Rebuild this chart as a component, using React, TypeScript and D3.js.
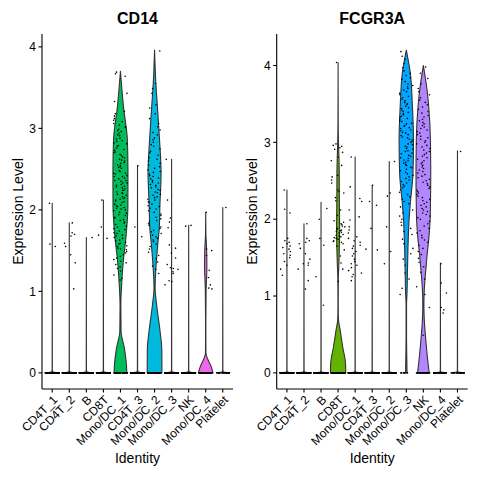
import React from "react";
import * as d3 from "d3";

const categories = ["CD4T_1", "CD4T_2", "B", "CD8T", "Mono/DC_1", "CD4T_3", "Mono/DC_2", "Mono/DC_3", "NK", "Mono/DC_4", "Platelet"];
const palette = ["#F8766D", "#DB8E00", "#AEA200", "#64B200", "#00BD5C", "#00C1A7", "#00BADE", "#00A6FF", "#B385FF", "#EF67EB", "#FF63B6"];

// ---------- CD14 ----------
const cd14Zeros = [150, 150, 150, 150, 30, 150, 40, 150, 150, 40, 18];
const cd14Values: number[][] = [
  [2.08, 1.58, 1.55],
  [1.84, 1.72, 1.70, 1.68, 1.59, 1.55, 1.45, 1.35, 1.03],
  [1.66],
  [2.12, 1.79, 1.69, 1.65],
  [3.69, 3.67, 3.64, 3.43, 3.33, 3.21, 3.18, 3.15, 3.12, 3.10, 3.08, 3.06, 3.04, 3.02, 3.01,
   2.99, 2.97, 2.96, 2.94, 2.92, 2.91, 2.88, 2.87, 2.85, 2.84, 2.82, 2.81, 2.79, 2.78, 2.76, 2.74, 2.73, 2.71, 2.70, 2.68, 2.67, 2.65, 2.64, 2.62, 2.61, 2.60, 2.58, 2.57, 2.55, 2.54, 2.53, 2.52, 2.51,
   2.48, 2.47, 2.45, 2.45, 2.44, 2.42, 2.41, 2.41, 2.39, 2.38, 2.36, 2.36, 2.35, 2.33, 2.33, 2.31, 2.30, 2.29, 2.28, 2.27, 2.26, 2.24, 2.24, 2.22, 2.21, 2.20, 2.19, 2.18, 2.16, 2.15, 2.14, 2.13, 2.12, 2.11, 2.10, 2.09, 2.07, 2.06, 2.05, 2.04, 2.03, 2.02, 2.01, 2.00,
   1.99, 1.97, 1.96, 1.94, 1.93, 1.91, 1.90, 1.88, 1.87, 1.85, 1.84, 1.82, 1.80, 1.79, 1.77, 1.76, 1.74, 1.72, 1.71, 1.69, 1.68, 1.66, 1.65, 1.63, 1.62, 1.60, 1.59, 1.58, 1.56, 1.55, 1.53, 1.52, 1.51,
   1.49, 1.47, 1.45, 1.43, 1.41, 1.39, 1.37, 1.35, 1.33, 1.30, 1.28, 1.25, 1.20, 1.16, 1.14],
  [2.54, 1.79, 1.67],
  [3.95, 3.55, 3.49, 3.43, 3.29, 3.25, 3.18, 3.12, 3.06, 3.02,
   2.98, 2.95, 2.92, 2.88, 2.86, 2.83, 2.80, 2.78, 2.75, 2.72, 2.70, 2.67, 2.64, 2.62, 2.60, 2.57, 2.55, 2.53, 2.51,
   2.49, 2.47, 2.46, 2.44, 2.42, 2.41, 2.39, 2.38, 2.36, 2.34, 2.33, 2.31, 2.30, 2.28, 2.27, 2.25, 2.24, 2.22, 2.21, 2.19, 2.18, 2.16, 2.15, 2.13, 2.12, 2.10, 2.09, 2.07, 2.05, 2.04, 2.02, 2.01,
   1.99, 1.97, 1.95, 1.93, 1.91, 1.89, 1.87, 1.85, 1.83, 1.81, 1.79, 1.77, 1.75, 1.73, 1.71, 1.69, 1.67, 1.65, 1.63, 1.61, 1.58, 1.55, 1.52,
   1.48, 1.44, 1.40, 1.36, 1.31, 1.27, 1.22],
  [2.62, 2.12, 1.90, 1.85, 1.78, 1.57, 1.53, 1.47, 1.41, 1.33, 1.29, 1.28, 1.27, 1.24, 1.22, 1.13, 1.12, 1.08],
  [1.81, 1.80],
  [1.97, 1.52, 1.50, 1.44, 1.26, 1.17, 1.08, 1.04, 1.03],
  [2.03],
];
// violin outlines: [expression level, relative half-width]
const cd14Profiles: [number, number][][] = [
  [[0, 0.75], [0.012, 0.06], [0.04, 0.012], [2.08, 0]],
  [[0, 0.75], [0.012, 0.06], [0.04, 0.012], [1.84, 0]],
  [[0, 0.75], [0.012, 0.06], [0.04, 0.012], [1.66, 0]],
  [[0, 0.75], [0.012, 0.06], [0.04, 0.012], [2.12, 0]],
  [[0, 0.83], [0.1, 0.78], [0.3, 0.52], [0.51, 0.08], [0.83, 0.05], [1.04, 0.13], [1.37, 0.37], [1.65, 0.7], [2.04, 0.97], [2.45, 0.98], [2.86, 0.9], [3.27, 0.39], [3.7, 0]],
  [[0, 0.75], [0.012, 0.06], [0.04, 0.012], [2.54, 0]],
  [[0, 0.95], [0.1, 0.96], [0.3, 0.94], [0.51, 0.72], [0.83, 0.28], [1.04, 0.07], [1.24, 0.15], [1.57, 0.41], [1.78, 0.62], [2.06, 0.7], [2.45, 0.85], [2.86, 0.65], [3.27, 0.37], [3.55, 0.17], [3.96, 0]],
  [[0, 0.75], [0.012, 0.06], [0.04, 0.012], [2.62, 0]],
  [[0, 0.75], [0.012, 0.06], [0.04, 0.012], [1.81, 0]],
  [[0, 0.95], [0.08, 0.7], [0.16, 0.3], [0.24, 0.03], [0.6, 0.015], [1.02, 0.05], [1.3, 0.15], [1.51, 0.12], [1.72, 0.02], [1.97, 0]],
  [[0, 0.75], [0.012, 0.06], [0.04, 0.012], [2.03, 0]],
];

// ---------- FCGR3A ----------
const fcgrZeros = [150, 150, 150, 120, 150, 150, 150, 6, 25, 30, 18];
const fcgrValues: number[][] = [
  [2.38, 2.13, 2.08, 1.75, 1.72, 1.70, 1.68, 1.65, 1.63, 1.61, 1.58, 1.55, 1.53, 1.50, 1.45, 1.40, 1.35, 1.27],
  [1.94, 1.75, 1.72, 1.70, 1.68, 1.62, 1.55, 1.48, 1.43, 1.42, 1.40, 1.35, 1.20, 1.09],
  [2.14, 2.00, 1.75, 1.66, 1.25, 0.88],
  [4.04, 2.98, 2.96, 2.95, 2.93, 2.91, 2.87, 2.81, 2.76, 2.70, 2.57, 2.55, 2.51, 2.47, 2.38, 2.36, 2.34, 2.28, 2.24, 2.12, 2.05,
   1.98, 1.96, 1.94, 1.93, 1.91, 1.90, 1.88, 1.87, 1.86, 1.85, 1.84, 1.83, 1.82, 1.80, 1.79, 1.78, 1.77, 1.76, 1.75, 1.74, 1.72, 1.71, 1.70, 1.68, 1.65, 1.60, 1.52, 1.43, 1.35, 1.19],
  [2.81, 2.42, 2.27, 2.23, 2.12, 2.03, 1.99, 1.90, 1.86, 1.82, 1.77, 1.75, 1.72, 1.70, 1.66, 1.65, 1.62, 1.58, 1.55, 1.52, 1.48, 1.45, 1.42, 1.40, 1.37, 1.33, 1.30, 1.28, 1.25, 1.20],
  [2.44, 2.23, 2.18, 1.88, 1.61, 1.60],
  [2.75, 2.34, 2.30, 1.90, 1.58, 1.42],
  [4.18, 4.12, 4.08, 4.03, 3.97, 3.93, 3.90, 3.87, 3.84, 3.82, 3.79, 3.76, 3.74, 3.72, 3.70, 3.68, 3.66, 3.64, 3.62, 3.60, 3.58, 3.56, 3.54, 3.52, 3.50, 3.49, 3.47, 3.45, 3.44, 3.42, 3.40, 3.39, 3.37, 3.36, 3.34, 3.33, 3.31, 3.30, 3.28, 3.27, 3.25, 3.24, 3.22, 3.21, 3.19, 3.18, 3.16, 3.15, 3.13, 3.12, 3.10, 3.09, 3.07, 3.06, 3.04, 3.03, 3.01, 3.00,
   2.98, 2.97, 2.95, 2.94, 2.92, 2.91, 2.89, 2.88, 2.86, 2.85, 2.83, 2.82, 2.80, 2.79, 2.77, 2.76, 2.74, 2.73, 2.71, 2.70, 2.68, 2.67, 2.65, 2.63, 2.61, 2.59, 2.57, 2.55, 2.53, 2.51, 2.49, 2.47, 2.45, 2.43, 2.41, 2.38, 2.35, 2.32, 2.29, 2.26, 2.23, 2.20, 2.16, 2.12, 2.08, 2.04, 2.00,
   1.96, 1.92, 1.88, 1.84, 1.80, 1.74, 1.68, 1.62, 1.55, 1.48, 1.40, 1.30, 1.22, 1.10, 1.02],
  [3.98, 3.90, 3.83, 3.76, 3.70, 3.66, 3.62, 3.58, 3.55, 3.52, 3.49, 3.46, 3.43, 3.40, 3.38, 3.35, 3.33, 3.30, 3.28, 3.26, 3.24, 3.22, 3.20, 3.18, 3.16, 3.14, 3.12, 3.10, 3.08, 3.06, 3.04, 3.02, 3.00,
   2.98, 2.96, 2.94, 2.92, 2.90, 2.88, 2.86, 2.84, 2.82, 2.80, 2.78, 2.76, 2.74, 2.72, 2.70, 2.68, 2.66, 2.64, 2.62, 2.60, 2.58, 2.56, 2.54, 2.52, 2.50, 2.48, 2.46, 2.44, 2.42, 2.40, 2.38, 2.36, 2.34, 2.32, 2.30, 2.28, 2.26, 2.24, 2.22, 2.20, 2.18, 2.16, 2.14, 2.12, 2.10, 2.08, 2.06, 2.04, 2.02, 2.00,
   1.97, 1.94, 1.91, 1.88, 1.85, 1.82, 1.79, 1.76, 1.73, 1.70, 1.66, 1.62, 1.58, 1.54, 1.49, 1.44, 1.38, 1.31, 1.22, 1.12, 1.02, 0.85, 0.49],
  [1.42, 1.17, 1.04, 0.85, 0.82, 0.78],
  [2.88],
];
const fcgrProfiles: [number, number][][] = [
  [[0, 0.75], [0.012, 0.06], [0.04, 0.012], [2.38, 0]],
  [[0, 0.75], [0.012, 0.06], [0.04, 0.012], [1.94, 0]],
  [[0, 0.75], [0.012, 0.06], [0.04, 0.012], [2.22, 0]],
  [[0, 1.0], [0.13, 0.96], [0.34, 0.6], [0.56, 0.26], [0.69, 0.05], [0.85, 0.02], [1.0, 0.02], [1.21, 0.03], [1.47, 0.12], [1.86, 0.2], [2.3, 0.16], [2.6, 0.15], [2.77, 0.12], [3.0, 0.05], [3.3, 0.015], [4.04, 0]],
  [[0, 0.75], [0.012, 0.06], [0.04, 0.012], [2.81, 0]],
  [[0, 0.75], [0.012, 0.06], [0.04, 0.012], [2.44, 0]],
  [[0, 0.75], [0.012, 0.06], [0.04, 0.012], [2.75, 0]],
  [[0, 0.1], [0.5, 0.03], [0.88, 0.03], [1.06, 0.1], [1.32, 0.15], [1.76, 0.26], [1.97, 0.35], [2.18, 0.5], [2.6, 0.87], [3.03, 0.94], [3.46, 0.8], [3.9, 0.52], [4.2, 0]],
  [[0, 0.76], [0.23, 0.5], [0.45, 0.3], [0.67, 0.13], [0.88, 0.07], [1.1, 0.13], [1.32, 0.3], [1.53, 0.48], [1.76, 0.72], [1.97, 0.87], [2.18, 0.92], [2.6, 0.96], [3.03, 0.92], [3.46, 0.7], [3.68, 0.48], [4.0, 0]],
  [[0, 0.75], [0.012, 0.06], [0.04, 0.012], [1.43, 0]],
  [[0, 0.75], [0.012, 0.06], [0.04, 0.012], [2.89, 0]],
];

const FONT = "'Liberation Sans', Arial, Helvetica, sans-serif";
const TOP = 34;
const BOTTOM = 389;

// deterministic jitter position (hash) within the band, in [-0.5, 0.5)
function jit(i: number, g: number) {
  const s = Math.sin(i * 12.9898 + g * 78.233 + 1.7) * 43758.5453;
  return s - Math.floor(s) - 0.5;
}

type PanelProps = {
  title: string;
  x0: number;
  x1: number;
  ytitleX: number;
  zeros: number[];
  values: number[][];
  profiles: [number, number][][];
};

function Panel({ title, x0, x1, ytitleX, zeros, values, profiles }: PanelProps) {
  const x = d3.scalePoint<string>().domain(categories).range([x0, x1]).padding(0.6);
  const step = x.step();
  const maxV = d3.max(profiles.map((p) => d3.max(p, (d) => d[0]) as number)) as number;
  const y = d3.scaleLinear().domain([-0.05 * maxV, maxV * 1.05]).range([BOTTOM, TOP]);
  const half = 0.45 * step;
  const ticks = y.ticks(5).filter((t) => Number.isInteger(t));
  const cxMid = (x0 + x1) / 2;

  return (
    <g>
      {categories.map((c, gi) => {
        const cx = x(c) as number;
        const prof = profiles[gi].slice().reverse();
        const area = d3
          .area<[number, number]>()
          .y((d) => y(d[0]))
          .x0((d) => cx - d[1] * half)
          .x1((d) => cx + d[1] * half)
          .curve(d3.curveMonotoneY);
        return (
          <path key={"v" + gi} d={area(prof) || ""} fill={palette[gi]} stroke="#333" strokeWidth={1.1} strokeLinejoin="round" />
        );
      })}
      {categories.map((c, gi) => {
        const cx = x(c) as number;
        const pts: JSX.Element[] = [];
        for (let i = 0; i < zeros[gi]; i++) {
          pts.push(<circle key={"z" + i} cx={cx + jit(i, gi) * 0.8 * step} cy={y(0)} r={0.95} fill="#000" />);
        }
        values[gi].forEach((v, i) => {
          pts.push(<circle key={"p" + i} cx={cx + jit(i + 700, gi + 11) * 0.8 * step} cy={y(v)} r={0.8} fill="#000" />);
        });
        return <g key={"pts" + gi}>{pts}</g>;
      })}
      {/* axes */}
      <line x1={x0} x2={x0} y1={TOP} y2={BOTTOM} stroke="#000" strokeWidth={1.1} />
      <line x1={x0} x2={x1} y1={BOTTOM} y2={BOTTOM} stroke="#000" strokeWidth={1.1} />
      {ticks.map((t) => (
        <g key={"yt" + t}>
          <line x1={x0 - 3.5} x2={x0} y1={y(t)} y2={y(t)} stroke="#000" strokeWidth={1.1} />
          <text x={x0 - 6} y={y(t)} dy="0.35em" textAnchor="end" fontFamily={FONT} fontSize={12} fill="#000">
            {t}
          </text>
        </g>
      ))}
      {categories.map((c) => {
        const cx = x(c) as number;
        return (
          <g key={"xt" + c}>
            <line x1={cx} x2={cx} y1={BOTTOM} y2={BOTTOM + 3.5} stroke="#000" strokeWidth={1.1} />
            <text transform={`translate(${cx},${BOTTOM + 5.5}) rotate(-45)`} dy="0.72em" textAnchor="end" fontFamily={FONT} fontSize={12} fill="#000">
              {c}
            </text>
          </g>
        );
      })}
      <text x={cxMid} y={24} textAnchor="middle" fontFamily={FONT} fontSize={16} fontWeight="bold" fill="#000">
        {title}
      </text>
      <text x={cxMid} y={463} textAnchor="middle" fontFamily={FONT} fontSize={14} fill="#000">
        Identity
      </text>
      <text transform={`translate(${ytitleX},${(TOP + BOTTOM) / 2}) rotate(-90)`} textAnchor="middle" fontFamily={FONT} fontSize={14} fill="#000">
        Expression Level
      </text>
    </g>
  );
}

export default function App() {
  return (
    <svg width={480} height={480} viewBox="0 0 480 480" style={{ position: "absolute", left: 0, top: 0, background: "#fff" }}>
      <rect x={0} y={0} width={480} height={480} fill="#fff" />
      <Panel title="CD14" x0={42} x1={233} ytitleX={22.5} zeros={cd14Zeros} values={cd14Values} profiles={cd14Profiles} />
      <Panel title="FCGR3A" x0={276.7} x1={467.7} ytitleX={257} zeros={fcgrZeros} values={fcgrValues} profiles={fcgrProfiles} />
    </svg>
  );
}
